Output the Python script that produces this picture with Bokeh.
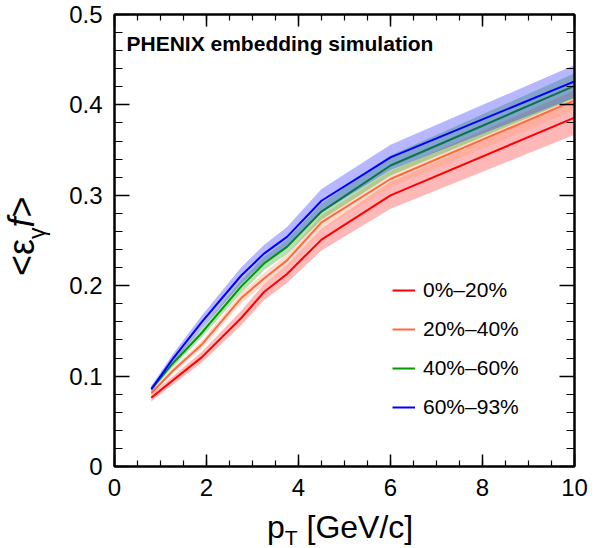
from bokeh.plotting import figure
from bokeh.models import (LinearAxis, SingleIntervalTicker, Label, Legend,
                          LegendItem, Range1d, Div, CustomJSTickFormatter)
from bokeh.layouts import row, column
from bokeh.embed import file_html
from bokeh.resources import INLINE

# pT bin points and <eps_gamma f> per centrality class
pt = [0.8, 1.25, 1.9, 2.75, 3.25, 3.75, 4.5, 6.0, 10.0]

red = [0.076, 0.0945, 0.121, 0.164, 0.193, 0.213, 0.251, 0.300, 0.386]
red_lo = [0.072, 0.090, 0.115, 0.156, 0.184, 0.203, 0.239, 0.285, 0.367]
red_hi = [0.080, 0.099, 0.127, 0.172, 0.202, 0.223, 0.263, 0.315, 0.405]

orange = [0.081, 0.105, 0.135, 0.186, 0.208, 0.228, 0.270, 0.318, 0.405]
orange_lo = [0.079, 0.102, 0.131, 0.180, 0.202, 0.221, 0.262, 0.309, 0.394]
orange_hi = [0.083, 0.108, 0.139, 0.192, 0.214, 0.235, 0.278, 0.327, 0.416]

green = [0.086, 0.113, 0.148, 0.199, 0.2245, 0.243, 0.282, 0.333, 0.421]
green_lo = [0.083, 0.109, 0.143, 0.192, 0.217, 0.235, 0.273, 0.322, 0.407]
green_hi = [0.089, 0.117, 0.153, 0.206, 0.232, 0.251, 0.291, 0.344, 0.435]

blue = [0.0855, 0.118, 0.160, 0.211, 0.2355, 0.254, 0.294, 0.342, 0.426]
blue_lo = [0.082, 0.113, 0.153, 0.202, 0.226, 0.243, 0.281, 0.328, 0.408]
blue_hi = [0.089, 0.123, 0.167, 0.220, 0.245, 0.265, 0.307, 0.356, 0.444]

labels = ["0%\u201320%", "20%\u201340%", "40%\u201360%", "60%\u201393%"]

FONT = "Liberation Sans"

p = figure(frame_width=460, frame_height=452, output_backend="svg",
           toolbar_location=None, x_range=Range1d(0, 10), y_range=Range1d(0, 0.5),
           min_border_left=54, min_border_right=20, min_border_top=14,
           min_border_bottom=36, x_axis_type=None, y_axis_type=None)
p.grid.visible = False
p.outline_line_color = "black"
p.outline_line_width = 2
p.background_fill_color = "white"
p.border_fill_color = "white"

# ROOT style axes: ticks pointing inwards on all four sides
def make_axis(ticker, major_in, minor_in, show_labels, standoff):
    ax = LinearAxis(ticker=ticker)
    ax.axis_line_width = 2
    ax.major_tick_out = 0
    ax.minor_tick_out = 0
    ax.major_tick_in = major_in
    ax.minor_tick_in = minor_in
    ax.major_tick_line_width = 1.5
    ax.minor_tick_line_width = 1.2
    ax.major_label_text_font = FONT
    ax.major_label_text_color = "black"
    ax.major_label_text_font_size = "24px"
    ax.major_label_standoff = standoff
    if not show_labels:
        ax.formatter = CustomJSTickFormatter(code="return ''")
        ax.major_label_standoff = 0
    return ax

xt = SingleIntervalTicker(interval=2, num_minor_ticks=4)
yt = SingleIntervalTicker(interval=0.1, num_minor_ticks=5)
p.add_layout(make_axis(xt, 12, 6, True, 12), "below")
p.add_layout(make_axis(yt, 15, 8, True, 12), "left")
p.add_layout(make_axis(xt, 12, 6, False, 0), "above")
p.add_layout(make_axis(yt, 15, 8, False, 0), "right")

series = [
    (red, red_lo, red_hi, "#ff0000", "#ff3333", 0.35),
    (orange, orange_lo, orange_hi, "#ff6a3d", "#ff9a70", 0.35),
    (green, green_lo, green_hi, "#009900", "#00a000", 0.3),
    (blue, blue_lo, blue_hi, "#0000ff", "#2020ff", 0.32),
]
items = []
for (y, lo, hi, lc, fc, fa), lab in zip(series, labels):
    p.varea(x=pt, y1=lo, y2=hi, fill_color=fc, fill_alpha=fa)
    r = p.line(pt, y, line_color=lc, line_width=2)
    items.append(LegendItem(label=lab, renderers=[r]))

leg = Legend(items=items, location=(278, 47), border_line_color=None,
             background_fill_alpha=0, padding=0, margin=0, spacing=15,
             glyph_width=23, glyph_height=20, label_height=20,
             label_standoff=8, label_text_font=FONT,
             label_text_color="black", label_text_font_size="21px")
p.add_layout(leg, "center")

# header text inside the frame
p.add_layout(Label(x=12, y=412, x_units="screen", y_units="screen",
                   text="PHENIX embedding simulation", text_font=FONT,
                   text_color="black", text_font_style="bold",
                   text_font_size="21px"))

# axis titles as html text, so the sub/italic parts can be written
ylab = Div(width=50, height=502, text=(
    '<div style="font-family:\'Liberation Sans\'; font-size:36px; '
    'line-height:36px; color:black; white-space:nowrap; '
    'transform-origin:0 0; transform:translate(-1px, 271px) rotate(-90deg);">'
    '&lt;\u03b5<span style="font-size:23px; position:relative; top:11px;">'
    '\u03b3</span><i>f</i>&gt;</div>'))

xlab = Div(width=584, height=41, text=(
    '<div style="font-family:\'Liberation Sans\'; font-size:32px; '
    'line-height:32px; color:black; white-space:nowrap; '
    'padding-left:262px; position:relative; top:-6px;">'
    'p<span style="font-size:21px; position:relative; top:7px;">T</span>'
    ' [GeV/c]</div>'))

layout = column(row(ylab, p), xlab)

open("out.html", "w").write(file_html(layout, INLINE))
